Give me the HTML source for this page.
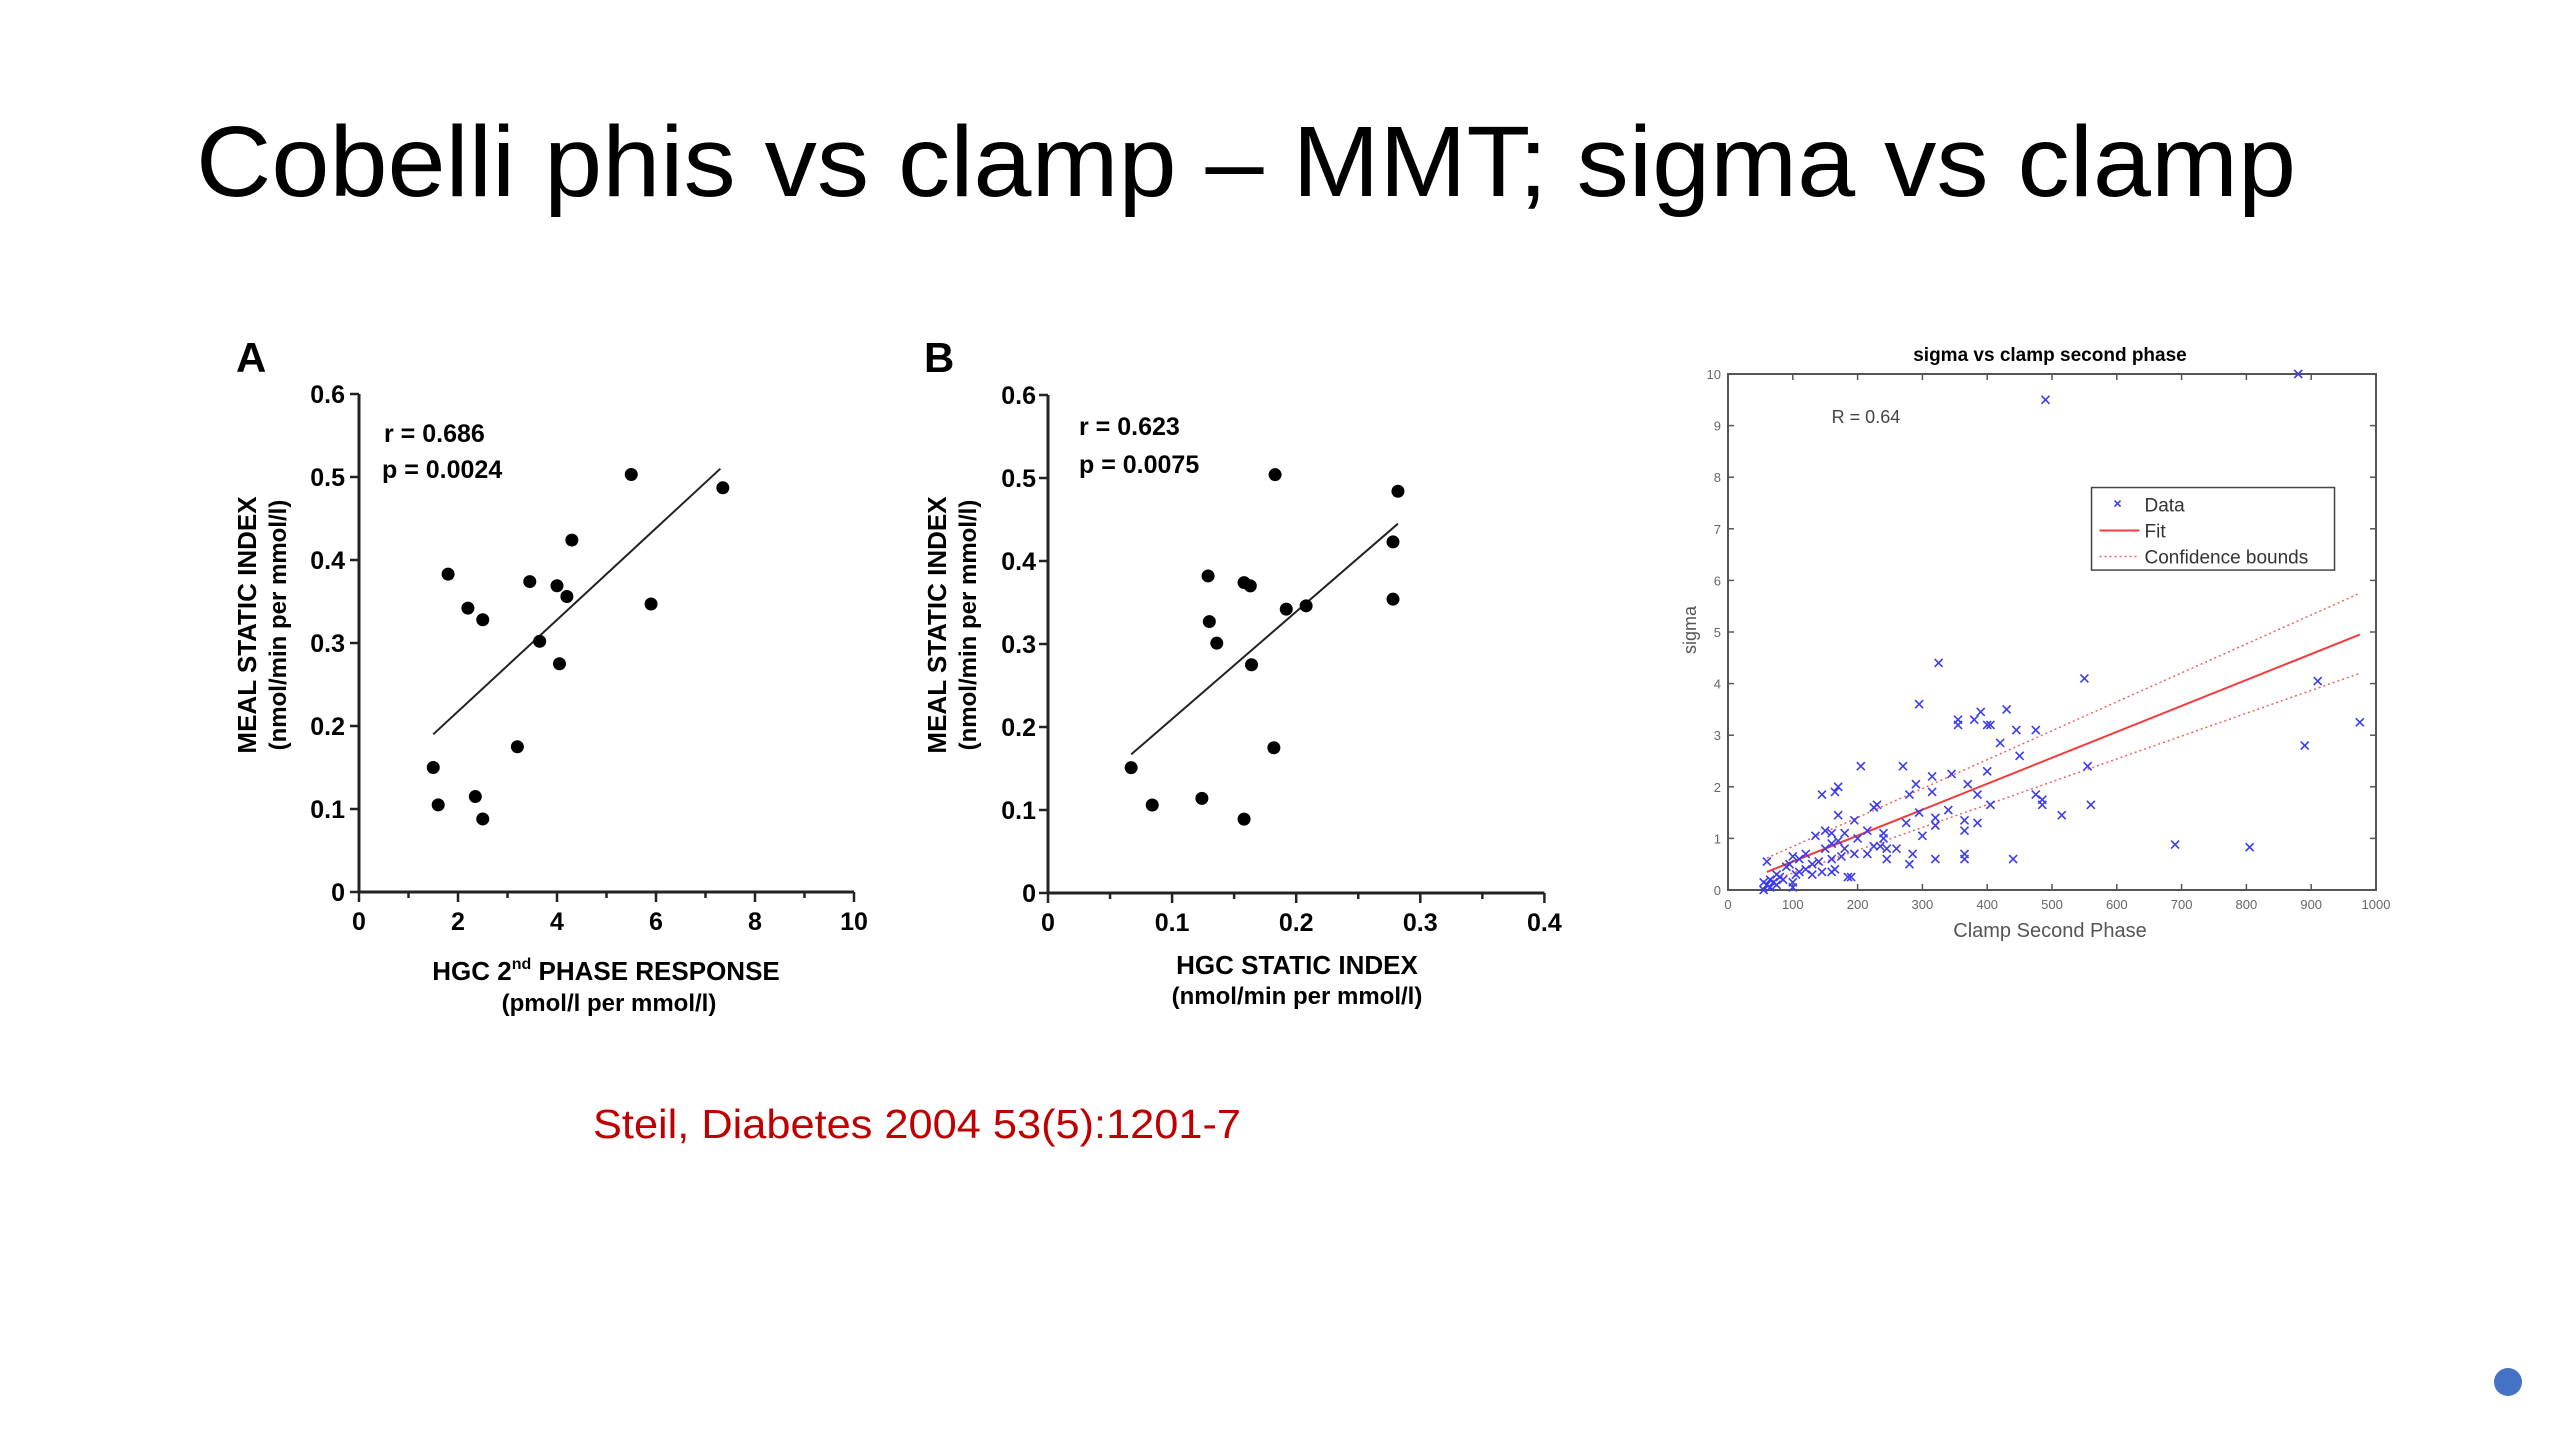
<!DOCTYPE html>
<html><head><meta charset="utf-8"><style>
html,body{margin:0;padding:0;background:#fff;}
svg{display:block;font-family:"Liberation Sans",sans-serif;}
</style></head><body>
<svg id="page" width="2560" height="1440" viewBox="0 0 2560 1440">
<text x="196" y="196" font-size="100" textLength="2100" lengthAdjust="spacingAndGlyphs" fill="#000">Cobelli phis vs clamp – MMT; sigma vs clamp</text>
<text x="593" y="1138" font-size="41" fill="#c00000" textLength="648" lengthAdjust="spacingAndGlyphs">Steil, Diabetes 2004 53(5):1201-7</text>
<circle cx="2508" cy="1382" r="14" fill="#4472c4"/>
<g id="chartA"></g>
<g id="chartB"></g>
<g id="chartC"></g>
</svg>
<script>
// Chart A data
const aX = [1.5,1.6,1.8,2.2,2.35,2.5,2.5,3.2,3.45,3.65,4.0,4.05,4.2,4.3,5.5,5.9,7.35];
const aY = [0.15,0.105,0.383,0.342,0.115,0.088,0.328,0.175,0.374,0.302,0.369,0.275,0.356,0.424,0.503,0.347,0.487];
const aFitX = [1.5,7.3];
const aFitY = [0.19,0.51];
const aXTicks = ["0","2","4","6","8","10"];
const aYTicks = ["0","0.1","0.2","0.3","0.4","0.5","0.6"];
// Chart B data
const bX = [0.067,0.084,0.124,0.129,0.130,0.136,0.158,0.158,0.163,0.164,0.182,0.183,0.192,0.208,0.278,0.278,0.282];
const bY = [0.151,0.106,0.114,0.382,0.327,0.301,0.089,0.374,0.370,0.275,0.175,0.504,0.342,0.346,0.354,0.423,0.484];
const bFitX = [0.067,0.282];
const bFitY = [0.167,0.445];
const bXTicks = ["0","0.1","0.2","0.3","0.4"];
const bYTicks = ["0","0.1","0.2","0.3","0.4","0.5","0.6"];
// Chart C data
const cX = [490,880,325,550,910,975,890,295,390,430,355,355,380,400,405,445,475,420,450,205,270,345,315,400,555,290,370,170,145,165,280,315,385,475,485,485,405,560,225,230,340,295,515,170,320,365,385,320,275,195,365,300,240,240,215,150,160,135,180,200,690,805,225,235,245,260,180,175,215,195,285,245,320,365,365,440,280,160,165,160,145,185,190,120,110,100,95,90,60,75,80,65,70,55,60,65,100,105,120,130,85,75,55,110,140,150,160,170,130,100];
const cY = [9.5,10,4.4,4.1,4.05,3.25,2.8,3.6,3.45,3.5,3.3,3.2,3.3,3.2,3.2,3.1,3.1,2.85,2.6,2.4,2.4,2.25,2.2,2.3,2.4,2.05,2.05,2.0,1.85,1.9,1.85,1.9,1.85,1.85,1.75,1.65,1.65,1.65,1.6,1.65,1.55,1.5,1.45,1.45,1.4,1.35,1.3,1.25,1.3,1.35,1.15,1.05,1.1,1.0,1.15,1.15,1.1,1.05,1.1,1.0,0.88,0.83,0.85,0.85,0.8,0.8,0.8,0.65,0.7,0.7,0.7,0.6,0.6,0.6,0.7,0.6,0.5,0.6,0.4,0.35,0.35,0.25,0.25,0.7,0.6,0.65,0.5,0.45,0.55,0.3,0.25,0.2,0.15,0.15,0.1,0.05,0.15,0.3,0.4,0.5,0.2,0.1,0.0,0.35,0.55,0.8,0.9,0.95,0.3,0.05];
const cFitX = [60,975];
const cFitY = [0.35,4.95];
const cUpperY = [0.62,5.75];
const cLowerY = [0.15,4.2];
const cXTicks = ["0","100","200","300","400","500","600","700","800","900","1000"];
const cYTicks = ["0","1","2","3","4","5","6","7","8","9","10"];

const NS = "http://www.w3.org/2000/svg";
function mk(parent, tag, attrs, text){
  const e = document.createElementNS(NS, tag);
  for (const k in attrs) e.setAttribute(k, attrs[k]);
  if (text !== undefined) e.textContent = text;
  parent.appendChild(e);
  return e;
}

// ---------- Chart A ----------
(function(){
  const g = document.getElementById('chartA');
  const X = v => 359 + v*49.5;
  const Y = v => 892 - v*830;
  let e;
  e = mk(g,'text',{x:236,y:372,'font-size':42,'font-weight':'bold'},'A');
   
  e = mk(g,'line',{x1:X(0),y1:Y(0),x2:X(10),y2:Y(0),stroke:'#222','stroke-width':3});
   
  e = mk(g,'line',{x1:X(0),y1:Y(0),x2:X(0),y2:Y(0.6),stroke:'#222','stroke-width':3});
   
  for (let i=0;i<=10;i++){ mk(g,'line',{x1:X(i),y1:Y(0),x2:X(i),y2:Y(0)+(i%2?6:10),stroke:'#222','stroke-width':2.5}); }
  aXTicks.forEach((t,i)=>{
    e = mk(g,'text',{x:X(+t),y:930,'font-size':25,'font-weight':'bold','text-anchor':'middle'},t);
     
  });
  aYTicks.forEach((t,i)=>{
    mk(g,'line',{x1:X(0)-9,y1:Y(+t),x2:X(0),y2:Y(+t),stroke:'#222','stroke-width':2.5});
    e = mk(g,'text',{x:345,y:Y(+t)+9,'font-size':25,'font-weight':'bold','text-anchor':'end'},t);
     
  });
  e = mk(g,'text',{x:0,y:0,'font-size':26,'font-weight':'bold','text-anchor':'middle',transform:'translate(256,625) rotate(-90)'},'MEAL STATIC INDEX');
   
  e = mk(g,'text',{x:0,y:0,'font-size':24,'font-weight':'bold','text-anchor':'middle',transform:'translate(286,625) rotate(-90)'},'(nmol/min per mmol/l)');
   
  e = mk(g,'text',{x:606,y:980,'font-size':26,'font-weight':'bold','text-anchor':'middle'});
  e.innerHTML = 'HGC 2<tspan dy="-11" font-size="16">nd</tspan><tspan dy="11"> PHASE RESPONSE</tspan>';
   
  e = mk(g,'text',{x:609,y:1011,'font-size':24,'font-weight':'bold','text-anchor':'middle'},'(pmol/l per mmol/l)');
   
  e = mk(g,'text',{x:384,y:442,'font-size':25,'font-weight':'bold'},'r =  0.686');
   
  e = mk(g,'text',{x:382,y:478,'font-size':25,'font-weight':'bold'},'p =  0.0024');
   
  e = mk(g,'line',{x1:X(aFitX[0]),y1:Y(aFitY[0]),x2:X(aFitX[1]),y2:Y(aFitY[1]),stroke:'#222','stroke-width':2});
   
  aX.forEach((v,i)=>{
    e = mk(g,'circle',{cx:X(v),cy:Y(aY[i]),r:6.5,fill:'#000'});
     
  });
})();

// ---------- Chart B ----------
(function(){
  const g = document.getElementById('chartB');
  const X = v => 1048 + v*1241;
  const Y = v => 893 - v*830;
  let e;
  e = mk(g,'text',{x:924,y:372,'font-size':42,'font-weight':'bold'},'B');
   
  e = mk(g,'line',{x1:X(0),y1:Y(0),x2:X(0.4),y2:Y(0),stroke:'#222','stroke-width':3});
   
  e = mk(g,'line',{x1:X(0),y1:Y(0),x2:X(0),y2:Y(0.6),stroke:'#222','stroke-width':3});
   
  for (let i=0;i<=8;i++){ mk(g,'line',{x1:X(i*0.05),y1:Y(0),x2:X(i*0.05),y2:Y(0)+(i%2?6:10),stroke:'#222','stroke-width':2.5}); }
  bXTicks.forEach(t=>{
    e = mk(g,'text',{x:X(+t),y:931,'font-size':25,'font-weight':'bold','text-anchor':'middle'},t);
     
  });
  bYTicks.forEach(t=>{
    mk(g,'line',{x1:X(0)-9,y1:Y(+t),x2:X(0),y2:Y(+t),stroke:'#222','stroke-width':2.5});
    e = mk(g,'text',{x:1036,y:Y(+t)+9,'font-size':25,'font-weight':'bold','text-anchor':'end'},t);
     
  });
  e = mk(g,'text',{x:0,y:0,'font-size':26,'font-weight':'bold','text-anchor':'middle',transform:'translate(946,625) rotate(-90)'},'MEAL STATIC INDEX');
   
  e = mk(g,'text',{x:0,y:0,'font-size':24,'font-weight':'bold','text-anchor':'middle',transform:'translate(976,625) rotate(-90)'},'(nmol/min per mmol/l)');
   
  e = mk(g,'text',{x:1297,y:974,'font-size':26,'font-weight':'bold','text-anchor':'middle'},'HGC STATIC INDEX');
   
  e = mk(g,'text',{x:1297,y:1004,'font-size':24,'font-weight':'bold','text-anchor':'middle'},'(nmol/min per mmol/l)');
   
  e = mk(g,'text',{x:1079,y:435,'font-size':25,'font-weight':'bold'},'r =  0.623');
   
  e = mk(g,'text',{x:1079,y:473,'font-size':25,'font-weight':'bold'},'p = 0.0075');
   
  e = mk(g,'line',{x1:X(bFitX[0]),y1:Y(bFitY[0]),x2:X(bFitX[1]),y2:Y(bFitY[1]),stroke:'#222','stroke-width':2});
   
  bX.forEach((v,i)=>{
    e = mk(g,'circle',{cx:X(v),cy:Y(bY[i]),r:6.5,fill:'#000'});
     
  });
})();

// ---------- Chart C ----------
(function(){
  const g = document.getElementById('chartC');
  const L=1728,R=2376,T=374,B=890;
  const X = v => L + v*(R-L)/1000;
  const Y = v => B - v*(B-T)/10;
  let e;
  e = mk(g,'text',{x:2050,y:361,'font-size':19,'font-weight':'bold','text-anchor':'middle'},'sigma vs clamp second phase');
   
  e = mk(g,'rect',{x:L,y:T,width:R-L,height:B-T,fill:'none',stroke:'#555','stroke-width':2});
   
  cXTicks.forEach(t=>{
    const x = X(+t);
    mk(g,'line',{x1:x,y1:B,x2:x,y2:B-6,stroke:'#555','stroke-width':1.5});
    mk(g,'line',{x1:x,y1:T,x2:x,y2:T+6,stroke:'#555','stroke-width':1.5});
    e = mk(g,'text',{x:x,y:909,'font-size':13,fill:'#666','text-anchor':'middle'},t);
     
  });
  cYTicks.forEach(t=>{
    const y = Y(+t);
    mk(g,'line',{x1:L,y1:y,x2:L+6,y2:y,stroke:'#555','stroke-width':1.5});
    mk(g,'line',{x1:R,y1:y,x2:R-6,y2:y,stroke:'#555','stroke-width':1.5});
    e = mk(g,'text',{x:1721,y:y+5,'font-size':13,fill:'#666','text-anchor':'end'},t);
     
  });
  e = mk(g,'text',{x:0,y:0,'font-size':18,fill:'#555','text-anchor':'middle',transform:'translate(1696,630) rotate(-90)'},'sigma');
   
  e = mk(g,'text',{x:2050,y:937,'font-size':20,fill:'#555','text-anchor':'middle'},'Clamp Second Phase');
   
  e = mk(g,'text',{x:X(160),y:Y(9.05),'font-size':18,fill:'#444'},'R = 0.64');
   
  e = mk(g,'line',{x1:X(cFitX[0]),y1:Y(cFitY[0]),x2:X(cFitX[1]),y2:Y(cFitY[1]),stroke:'#f03c3c','stroke-width':2});
   
  e = mk(g,'line',{x1:X(cFitX[0]),y1:Y(cUpperY[0]),x2:X(cFitX[1]),y2:Y(cUpperY[1]),stroke:'#f06060','stroke-width':1.5,'stroke-dasharray':'2,3'});
   
  e = mk(g,'line',{x1:X(cFitX[0]),y1:Y(cLowerY[0]),x2:X(cFitX[1]),y2:Y(cLowerY[1]),stroke:'#f06060','stroke-width':1.5,'stroke-dasharray':'2,3'});
   
  cX.forEach((v,i)=>{
    const x=X(v), y=Y(cY[i]), s=4;
    e = mk(g,'path',{d:`M${x-s},${y-s}L${x+s},${y+s}M${x-s},${y+s}L${x+s},${y-s}`,stroke:'#3b3bf0','stroke-width':1.6,fill:'none'});
     
  });
  // legend
  const lg = mk(g,'g',{});
   
  const lx=X(561), ly=Y(7.8), lw=X(936)-X(561), lh=Y(6.2)-Y(7.8);
  mk(lg,'rect',{x:lx,y:ly,width:lw,height:lh,fill:'#fff',stroke:'#444','stroke-width':1.5});
  const rows=['Data','Fit','Confidence bounds'];
  rows.forEach((t,i)=>{
    const yy = ly + 17 + i*26;
    if(i===0){ mk(lg,'path',{d:`M${lx+23},${yy-4}L${lx+29},${yy+2}M${lx+23},${yy+2}L${lx+29},${yy-4}`,stroke:'#3b3bf0','stroke-width':1.6}); }
    if(i===1){ mk(lg,'line',{x1:lx+8,y1:yy,x2:lx+48,y2:yy,stroke:'#f03c3c','stroke-width':2}); }
    if(i===2){ mk(lg,'line',{x1:lx+8,y1:yy,x2:lx+48,y2:yy,stroke:'#f06060','stroke-width':1.5,'stroke-dasharray':'2,3'}); }
    e = mk(lg,'text',{x:lx+53,y:yy+7,'font-size':19,fill:'#333'},t);
     
  });
})();
</script>
</body></html>
